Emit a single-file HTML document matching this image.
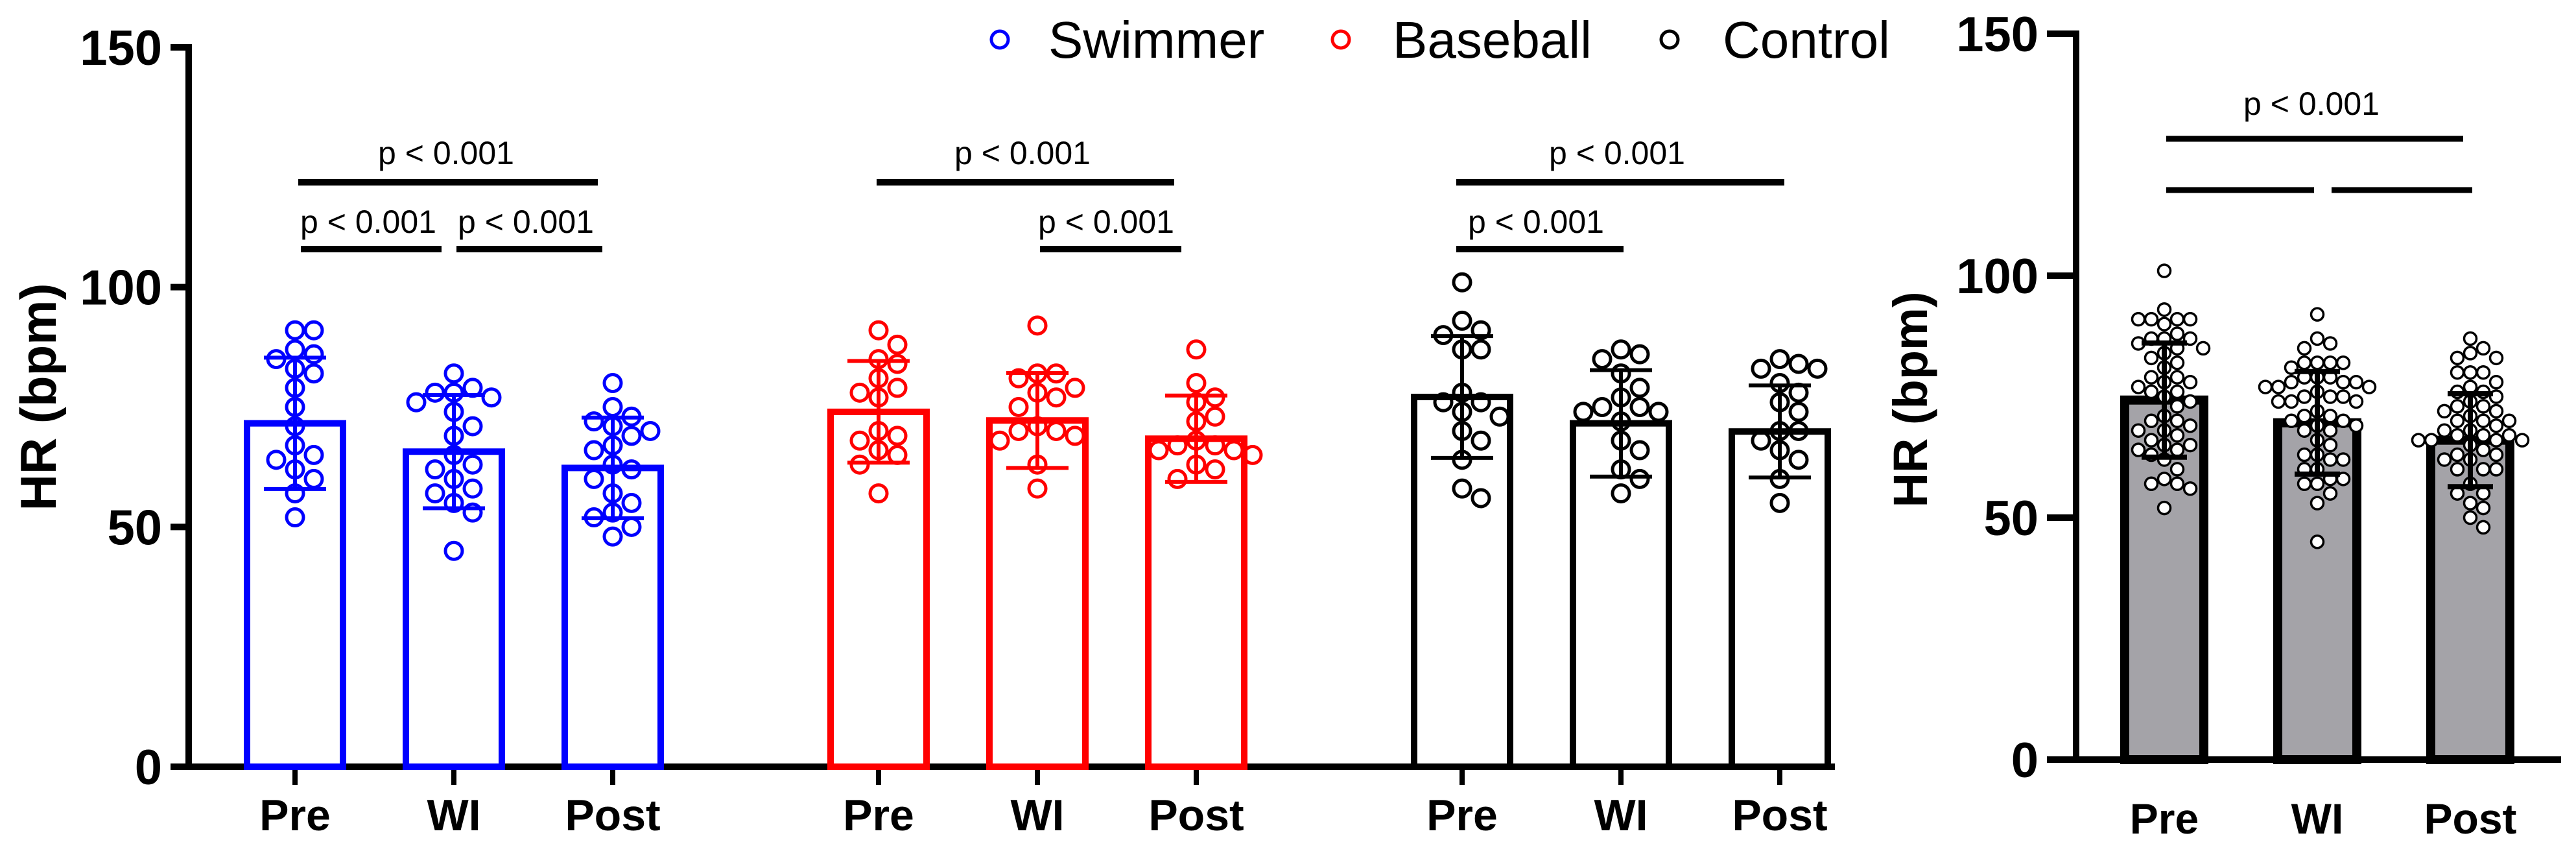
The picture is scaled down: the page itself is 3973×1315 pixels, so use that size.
<!DOCTYPE html>
<html><head><meta charset="utf-8"><style>
html,body{margin:0;padding:0;background:#fff;}
svg{display:block;}
text{font-family:"Liberation Sans",Arial,sans-serif;}
</style></head><body>
<svg id="chart" xmlns="http://www.w3.org/2000/svg" width="3973" height="1315" viewBox="0 0 3973 1315">
<g id="left"></g>
<g id="right"></g>
</svg>
<script>
// ---- data ----
const categories = ["Pre","WI","Post"];
const groups = ["Swimmer","Baseball","Control"];
const groupColors = ["#0000ff","#ff0000","#000000"];
const yTicks = [0,50,100,150];
const swimMean = [71.6,65.7,62.3];
const swimSd = [13.7,11.8,10.5];
const baseMean = [74.0,72.2,68.4];
const baseSd = [10.6,9.9,9.0];
const ctrlMean = [77.1,71.6,69.9];
const ctrlSd = [12.7,11.1,9.6];
const swimPre = [91,91,87,86,85,83,82,79,75,71,67,65,64,62,60,57,52];
const swimWI = [82,79,78,78,77,76,74,71,69,65,63,62,60,58,57,55,53,45];
const swimPost = [80,75,73,72,71,70,69,67,66,63,62,60,57,55,53,52,50,48];
const basePre = [91,88,85,84,81,79,78,77,70,69,68,66,65,63,57];
const baseWI = [92,82,82,81,79,78,77,75,71,70,70,69,68,63,58];
const basePost = [87,80,77,76,73,72,68,67,67,66,66,65,63,62,60];
const ctrlPre = [101,93,91,90,87,87,78,76,76,74,73,70,68,64,58,56];
const ctrlWI = [87,86,85,82,79,77,75,75,74,74,72,68,66,62,60,57];
const ctrlPost = [85,84,83,83,80,78,76,74,70,70,68,66,64,60,55];
const pooledMean = [74.3,69.6,66.0];
const pooledSd = [11.8,10.6,9.6];
const pLabel = "p < 0.001";

const NS="http://www.w3.org/2000/svg";
function mk(tag,attrs,parent){const e=document.createElementNS(NS,tag);for(const k in attrs)e.setAttribute(k,attrs[k]);parent.appendChild(e);return e;}

const L=document.getElementById('left'), R=document.getElementById('right');
const yL=v=>1182-v*(1182-73)/150;
const xL=(g,c)=>455+g*900+c*245;
const yR=v=>1171-v*(1171-52)/150;
const xR=c=>3338+c*236;

function swarm(vals,cx,yf,r,step){
  const placed=[];const out=[];
  const order=vals.map((v,i)=>i).sort((a,b)=>vals[b]-vals[a]);
  order.forEach(i=>{
    const y=yf(vals[i]);
    for(let k=0;k<40;k++){
      const off=(k===0?0:(k%2?1:-1)*Math.ceil(k/2)*step);
      const x=cx+off;
      if(placed.every(p=>Math.hypot(p[0]-x,p[1]-y)>=2*r-1)){placed.push([x,y]);out.push([x,y]);break;}
    }
  });
  return out;
}

let e;
e=mk('line',{x1:291,y1:68,x2:291,y2:1187,stroke:'#000','stroke-width':10},L);


e=mk('line',{x1:263,y1:1182,x2:2830,y2:1182,stroke:'#000','stroke-width':10},L);


yTicks.forEach(t=>{
  e=mk('line',{x1:263,y1:yL(t),x2:291,y2:yL(t),stroke:'#000','stroke-width':10},L);
  
  
  e=mk('text',{x:250,y:yL(t)+27,'text-anchor':'end','font-size':76,'font-weight':'bold'},L);
  e.textContent=t;
  
  
});
e=mk('text',{x:0,y:0,transform:'translate(86,612) rotate(-90)','text-anchor':'middle','font-size':78,'font-weight':'bold'},L);
e.textContent='HR (bpm)';



const means=[swimMean,baseMean,ctrlMean], sds=[swimSd,baseSd,ctrlSd];
const pts=[[swimPre,swimWI,swimPost],[basePre,baseWI,basePost],[ctrlPre,ctrlWI,ctrlPost]];
groups.forEach((gname,g)=>{
  const col=groupColors[g];
  categories.forEach((c,ci)=>{
    const cx=xL(g,ci);
    e=mk('line',{x1:cx,y1:1182,x2:cx,y2:1210,stroke:'#000','stroke-width':8},L);
    
    
    e=mk('text',{x:cx,y:1280,'text-anchor':'middle','font-size':68,'font-weight':'bold'},L);
    e.textContent=c;
    
    
    const m=means[g][ci], s=sds[g][ci];
    e=mk('rect',{x:cx-74,y:yL(m),width:148,height:1182-yL(m),fill:'none',stroke:col,'stroke-width':10},L);
    
    
    swarm(pts[g][ci],cx,yL,15,29).forEach(p=>{
      e=mk('circle',{cx:p[0],cy:p[1],r:13,fill:'none',stroke:col,'stroke-width':5},L);
      
      
    });
    e=mk('path',{d:`M${cx} ${yL(m+s)}V${yL(m-s)}M${cx-48} ${yL(m+s)}H${cx+48}M${cx-48} ${yL(m-s)}H${cx+48}`,stroke:col,'stroke-width':6,fill:'none'},L);
    
    
  });
});

function bracket(par,x1,x2,y,tx,ty,label,w){
  e=mk('line',{x1:x1,y1:y,x2:x2,y2:y,stroke:'#000','stroke-width':w},par);
  
  
  if(label){
    e=mk('text',{x:tx,y:ty,'text-anchor':'middle','font-size':50},par);
    e.textContent=label;
    
    
  }
}
bracket(L,460,922,281,688,253,pLabel,10);
bracket(L,464,681,384,568,359,pLabel,10);
bracket(L,704,929,384,811,359,pLabel,10);
bracket(L,1352,1811,281,1577,253,pLabel,10);
bracket(L,1604,1822,384,1706,359,pLabel,10);
bracket(L,2246,2752,281,2494,253,pLabel,10);
bracket(L,2246,2504,384,2369,359,pLabel,10);

const legX=[1542,2068,2575], legTX=[1617,2148,2657];
groups.forEach((gname,g)=>{
  e=mk('circle',{cx:legX[g],cy:61,r:13,fill:'none',stroke:groupColors[g],'stroke-width':5},L);
  
  
  e=mk('text',{x:legTX[g],y:89,'font-size':80},L);
  e.textContent=gname;
  
  
});

e=mk('line',{x1:3202,y1:47,x2:3202,y2:1176,stroke:'#000','stroke-width':10},R);


e=mk('line',{x1:3157,y1:1171,x2:3950,y2:1171,stroke:'#000','stroke-width':10},R);


yTicks.forEach(t=>{
  e=mk('line',{x1:3157,y1:yR(t),x2:3202,y2:yR(t),stroke:'#000','stroke-width':10},R);
  
  
  e=mk('text',{x:3144,y:yR(t)+27,'text-anchor':'end','font-size':76,'font-weight':'bold'},R);
  e.textContent=t;
  
  
});
e=mk('text',{x:0,y:0,transform:'translate(2972,616) rotate(-90)','text-anchor':'middle','font-size':74,'font-weight':'bold'},R);
e.textContent='HR (bpm)';


const pooledPts=[swimPre.concat(basePre,ctrlPre),swimWI.concat(baseWI,ctrlWI),swimPost.concat(basePost,ctrlPost)];
categories.forEach((c,ci)=>{
  const cx=xR(ci), m=pooledMean[ci], s=pooledSd[ci];
  e=mk('rect',{x:cx-61,y:yR(m),width:122,height:1171-yR(m),fill:'#a4a3a8',stroke:'#000','stroke-width':14},R);
  
  
  e=mk('text',{x:cx,y:1285,'text-anchor':'middle','font-size':66,'font-weight':'bold'},R);
  e.textContent=c;
  
  
  swarm(pooledPts[ci],cx,yR,10,20).forEach(p=>{
    e=mk('circle',{cx:p[0],cy:p[1],r:9.5,fill:'#fff',stroke:'#000','stroke-width':3.5},R);
    
    
  });
  e=mk('path',{d:`M${cx} ${yR(m+s)}V${yR(m-s)}M${cx-35} ${yR(m+s)}H${cx+35}M${cx-35} ${yR(m-s)}H${cx+35}`,stroke:'#000','stroke-width':8,fill:'none'},R);
  
  
});
bracket(R,3341,3799,214,3565,177,pLabel,9);
bracket(R,3341,3569,293,0,0,null,9);
bracket(R,3596,3813,293,0,0,null,9);
</script>
</body></html>
